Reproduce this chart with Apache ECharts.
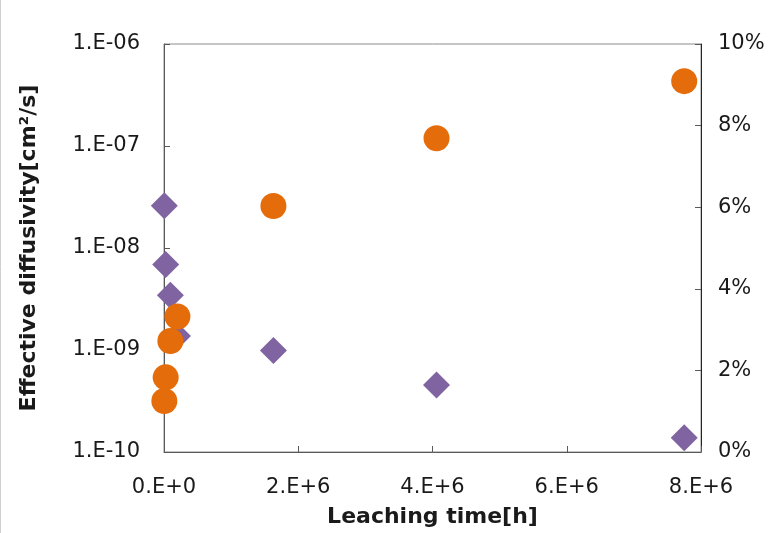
<!DOCTYPE html>
<html>
<head>
<meta charset="utf-8">
<script src="https://cdn.jsdelivr.net/npm/echarts@6/dist/echarts.min.js"></script>
<style>
  html, body { margin: 0; padding: 0; background: #fff; }
  #chart { width: 782px; height: 533px; }
</style>
</head>
<body>
<div id="chart"></div>
<script>
// Leaching time [h] for each measurement
const leachingTime = [5000, 25000, 95000, 200000, 1630000, 4060000, 7750000];
// Effective diffusivity [cm²/s] (left, log scale)
const diffusivity = [2.6e-8, 6.9e-9, 3.45e-9, 1.37e-9, 9.9e-10, 4.55e-10, 1.38e-10];
// Cumulative leached fraction [%] (right axis)
const leachedPercent = [1.25, 1.83, 2.72, 3.32, 6.03, 7.69, 9.09];

const xTickLabels = ['0.E+0', '2.E+6', '4.E+6', '6.E+6', '8.E+6'];
const yLeftTickLabels = ['1.E-10', '1.E-09', '1.E-08', '1.E-07', '1.E-06'];
const yRightTickLabels = ['0%', '2%', '4%', '6%', '8%', '10%'];

const FONT = '"DejaVu Sans", Verdana, sans-serif';
const axisColor = '#595959';
const textColor = '#1a1a1a';

const chart = echarts.init(document.getElementById('chart'), null, { renderer: 'canvas' });

chart.setOption({
  animation: false,
  backgroundColor: '#ffffff',
  graphic: [{
    type: 'line',
    shape: { x1: 0.5, y1: 0, x2: 0.5, y2: 533 },
    style: { stroke: '#d0d0d0', lineWidth: 1 },
    silent: true
  }],
  grid: {
    left: 164, right: 81, top: 44, bottom: 81,
    show: true, borderColor: '#8c8c8c', borderWidth: 1, backgroundColor: 'transparent'
  },
  xAxis: {
    type: 'value',
    min: 0, max: 8e6, interval: 2e6,
    name: 'Leaching time[h]',
    nameLocation: 'middle',
    nameGap: 54,
    nameTextStyle: { fontFamily: FONT, fontSize: 22, fontWeight: 'bold', color: textColor },
    axisLine: { lineStyle: { color: axisColor, width: 1 } },
    axisTick: { inside: true, length: 6, lineStyle: { color: axisColor } },
    splitLine: { show: false },
    axisLabel: {
      margin: 25,
      fontFamily: FONT, fontSize: 21, color: textColor,
      formatter: v => xTickLabels[Math.round(v / 2e6)]
    }
  },
  yAxis: [
    {
      type: 'log', logBase: 10,
      min: 1e-10, max: 1e-6,
      position: 'left',
      name: 'Effective diffusivity[cm²/s]',
      nameLocation: 'middle',
      nameGap: 124,
      nameRotate: 90,
      nameTextStyle: { fontFamily: FONT, fontSize: 22, fontWeight: 'bold', color: textColor },
      axisLine: { show: true, lineStyle: { color: axisColor, width: 1 } },
      axisTick: { show: true, inside: true, length: 6, lineStyle: { color: axisColor } },
      minorTick: { show: false },
      splitLine: { show: false },
      axisLabel: {
        margin: 24,
        fontFamily: FONT, fontSize: 21, color: textColor,
        formatter: v => yLeftTickLabels[Math.round(Math.log10(v)) + 10]
      }
    },
    {
      type: 'value',
      min: 0, max: 10, interval: 2,
      position: 'right',
      axisLine: { show: true, lineStyle: { color: '#262626', width: 1 } },
      axisTick: { show: true, inside: true, length: 6, lineStyle: { color: axisColor } },
      splitLine: { show: false },
      axisLabel: {
        margin: 17,
        fontFamily: FONT, fontSize: 21, color: textColor,
        formatter: v => yRightTickLabels[Math.round(v / 2)]
      }
    }
  ],
  series: [
    {
      name: 'Effective diffusivity',
      type: 'scatter',
      yAxisIndex: 0,
      symbol: 'diamond',
      symbolSize: 27,
      itemStyle: { color: '#8064A2', opacity: 1 },
      data: leachingTime.map((t, i) => [t, diffusivity[i]])
    },
    {
      name: 'Leached fraction',
      type: 'scatter',
      yAxisIndex: 1,
      symbol: 'circle',
      symbolSize: 26,
      itemStyle: { color: '#E46C0A', opacity: 1 },
      data: leachingTime.map((t, i) => [t, leachedPercent[i]])
    }
  ]
});
</script>
</body>
</html>
